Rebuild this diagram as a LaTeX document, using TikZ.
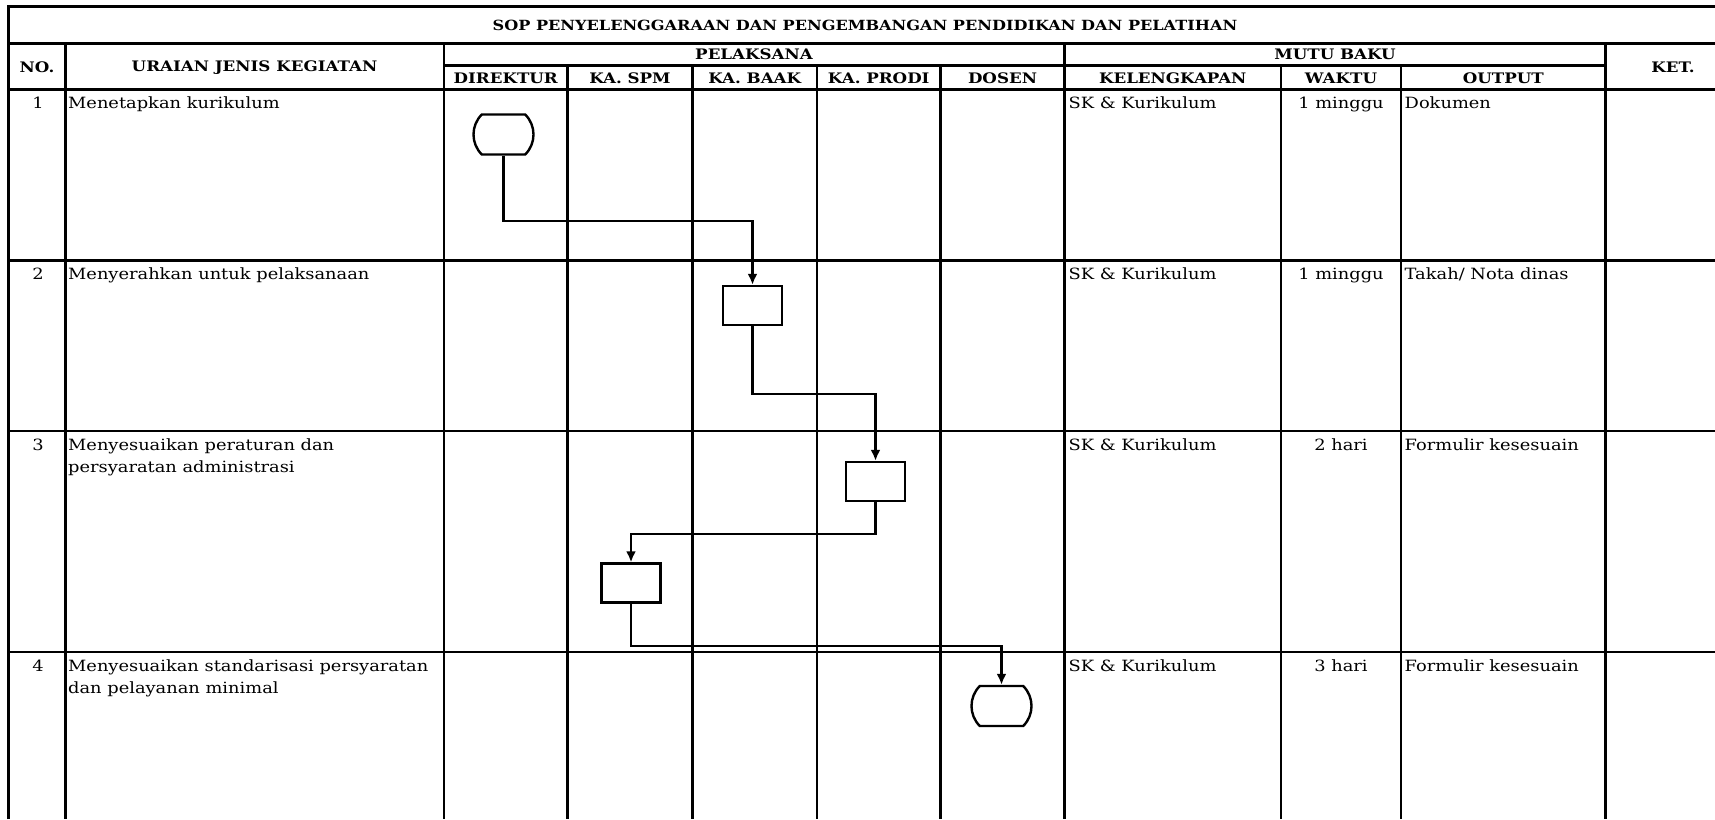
\documentclass[tikz,border=0pt]{standalone}
\usepackage{fontspec}
\setmainfont[FakeStretch=1.15]{DejaVu Serif}
\usetikzlibrary{shapes.misc, arrows.meta}

\tikzset{
        judul/.style = {font=\bfseries\fontsize{14.5}{16}\selectfont, inner sep=0pt},
        isi/.style = {font=\fontsize{15.5}{22}\selectfont, inner sep=0pt, align=left},
        kotak/.style = {draw, line width=2.4pt, minimum width=59pt, minimum height=39pt, inner sep=0pt},
        terminal/.style = {kotak, rounded rectangle, rounded rectangle arc length=90, minimum width=60pt, minimum height=40pt},
        alur/.style = {line width=2.3pt, ->, >={Latex[length=11pt, width=10pt]}},
        garis/.style = {line width=2.2pt},
        tepi/.style = {line width=3.4pt}
}

\begin{document}
\begin{tikzpicture}[x = 1pt, y = -1pt]
                \useasboundingbox (0,0) rectangle (1715,819);
                % garis tabel
                \draw[tepi] (8.5,819) -- (8.5,6.5) -- (1715,6.5);
                \draw[garis] (8.5,43.5) -- (1715,43.5);
                \draw[garis] (444,65.5) -- (1605.5,65.5);
                \draw[garis] (8.5,89.5) -- (1715,89.5);
                \draw[garis] (8.5,260.5) -- (1715,260.5);
                \draw[garis] (8.5,431) -- (1715,431);
                \draw[garis] (8.5,652) -- (1715,652);
                \draw[garis] (65.5,43.5) -- (65.5,819);
                \draw[garis] (444,43.5) -- (444,819);
                \draw[garis] (567.5,65.5) -- (567.5,819);
                \draw[garis] (692.5,65.5) -- (692.5,819);
                \draw[garis] (817,65.5) -- (817,819);
                \draw[garis] (940.5,65.5) -- (940.5,819);
                \draw[garis] (1064.5,43.5) -- (1064.5,819);
                \draw[garis] (1281,65.5) -- (1281,819);
                \draw[garis] (1401,65.5) -- (1401,819);
                \draw[garis] (1605.5,43.5) -- (1605.5,819);
                % kepala tabel
                \node[judul, font=\bfseries\fontsize{14}{16}\selectfont] (sop) at (865,25) {SOP PENYELENGGARAAN DAN PENGEMBANGAN PENDIDIKAN DAN PELATIHAN};
                \node[judul] (no) at (37,67.5) {NO.};
                \node[judul] (uraian) at (254.5,67.5) {URAIAN JENIS KEGIATAN};
                \node[judul] (pelaksana) at (754,54.5) {PELAKSANA};
                \node[judul] (mutu) at (1335,54.5) {MUTU BAKU};
                \node[judul] (ket) at (1673,67.5) {KET.};
                \node[judul] (direktur) at (505.75,78) {DIREKTUR};
                \node[judul] (spmh) at (630,78) {KA. SPM};
                \node[judul] (baakh) at (754.75,78) {KA. BAAK};
                \node[judul] (prodih) at (878.75,78) {KA. PRODI};
                \node[judul] (dosen) at (1002.5,78) {DOSEN};
                \node[judul] (lengkap) at (1172.75,78) {KELENGKAPAN};
                \node[judul] (waktu) at (1341,78) {WAKTU};
                \node[judul] (output) at (1503.25,78) {OUTPUT};
                % baris 1
                \node[isi, anchor=north] (no1) at (38,97) {1};
                \node[isi, anchor=north west] (keg1) at (68,97) {Menetapkan kurikulum};
                \node[isi, anchor=north west] (lkp1) at (1068.5,97) {SK \& Kurikulum};
                \node[isi, anchor=north] (wkt1) at (1341,97) {1 minggu};
                \node[isi, anchor=north west] (out1) at (1404.5,97) {Dokumen};
                % baris 2
                \node[isi, anchor=north] (no2) at (38,268) {2};
                \node[isi, anchor=north west] (keg2) at (68,268) {Menyerahkan untuk pelaksanaan};
                \node[isi, anchor=north west] (lkp2) at (1068.5,268) {SK \& Kurikulum};
                \node[isi, anchor=north] (wkt2) at (1341,268) {1 minggu};
                \node[isi, anchor=north west] (out2) at (1404.5,268) {Takah/ Nota dinas};
                % baris 3
                \node[isi, anchor=north] (no3) at (38,438.5) {3};
                \node[isi, anchor=north west] (keg3) at (68,438.5) {Menyesuaikan peraturan dan\\persyaratan administrasi};
                \node[isi, anchor=north west] (lkp3) at (1068.5,438.5) {SK \& Kurikulum};
                \node[isi, anchor=north] (wkt3) at (1341,438.5) {2 hari};
                \node[isi, anchor=north west] (out3) at (1404.5,438.5) {Formulir kesesuain};
                % baris 4
                \node[isi, anchor=north] (no4) at (38,659.5) {4};
                \node[isi, anchor=north west] (keg4) at (68,659.5) {Menyesuaikan standarisasi persyaratan\\dan pelayanan minimal};
                \node[isi, anchor=north west] (lkp4) at (1068.5,659.5) {SK \& Kurikulum};
                \node[isi, anchor=north] (wkt4) at (1341,659.5) {3 hari};
                \node[isi, anchor=north west] (out4) at (1404.5,659.5) {Formulir kesesuain};
                % alur kerja
                \node[terminal] (mulai) at (503.5,134.5) {};
                \node[kotak] (baak) at (752.5,305.5) {};
                \node[kotak] (prodi) at (875.5,481.5) {};
                \node[kotak] (spm) at (631,583) {};
                \node[terminal] (selesai) at (1001.5,706) {};
                \draw[alur] (mulai.south) -- ++(0,65.5) -| (baak.north);
                \draw[alur] (baak.south) -- ++(0,68) -| (prodi.north);
                \draw[alur] (prodi.south) -- ++(0,31.5) -| (spm.north);
                \draw[alur] (spm.south) -- ++(0,42) -| (selesai.north);
\end{tikzpicture}
\end{document}
